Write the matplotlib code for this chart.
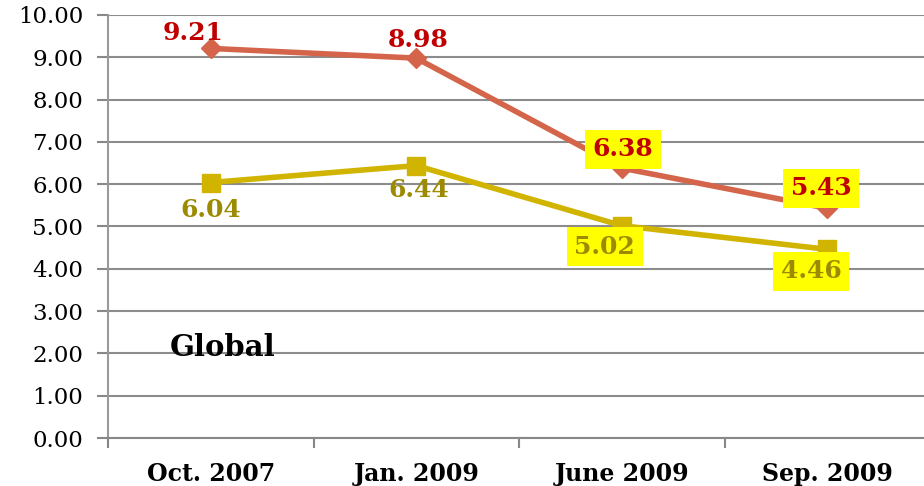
import matplotlib
matplotlib.use("Agg")
import matplotlib.pyplot as plt

categories = ["Oct. 2007", "Jan. 2009", "June 2009", "Sep. 2009"]
series_red = [9.21, 8.98, 6.38, 5.43]
series_yellow = [6.04, 6.44, 5.02, 4.46]
y_ticks = [0, 1, 2, 3, 4, 5, 6, 7, 8, 9, 10]

plt.rcParams['font.family'] = ['DejaVu Serif', 'Liberation Serif']

fig = plt.figure(figsize=(9.24, 4.86), dpi=100)
ax = fig.add_axes([108/924, 48/486, (930-108)/924, (438-15)/486])

x = list(range(len(categories)))
red_line = '#D4654A'
red_text = '#C00000'
yel_line = '#D1B400'
yel_text = '#9C8A00'

ax.plot(x, series_red, color=red_line, lw=4, marker='D', ms=10, zorder=3)
ax.plot(x, series_yellow, color=yel_line, lw=4, marker='s', ms=13, zorder=3)

# labels
red_off = [(-18, 15), (2, 18), (1, 19), (-6, 20)]
red_box = [False, False, True, True]
for i, (v, (dx, dy), b) in enumerate(zip(series_red, red_off, red_box)):
    kw = dict(boxstyle='square,pad=0.3', fc='#FFFF00', ec='none') if b else None
    ax.annotate(f"{v:.2f}", (i, v), xytext=(dx, dy), textcoords='offset pixels',
                ha='center', va='center', fontsize=18, fontweight='bold',
                color=red_text, bbox=kw, zorder=5)
yel_off = [(0, -27), (3, -24), (-17, -21), (-16, -22)]
yel_box = [False, False, True, True]
for i, (v, (dx, dy), b) in enumerate(zip(series_yellow, yel_off, yel_box)):
    kw = dict(boxstyle='square,pad=0.3', fc='#FFFF00', ec='none') if b else None
    ax.annotate(f"{v:.2f}", (i, v), xytext=(dx, dy), textcoords='offset pixels',
                ha='center', va='center', fontsize=18, fontweight='bold',
                color=yel_text, bbox=kw, zorder=5)

ax.set_xlim(-0.5, 3.5)
ax.set_ylim(0, 10)
ax.set_yticks(y_ticks)
ax.set_yticklabels([f"{t:.2f}" for t in y_ticks], fontsize=16.5)
ax.set_xticks([i - 0.5 for i in range(len(categories) + 1)])
ax.set_xticklabels([])
ax.set_xticks(x, minor=True)
ax.set_xticklabels(categories, minor=True, fontsize=17, fontweight='bold')
ax.tick_params(axis='x', which='minor', length=0, pad=17)
ax.tick_params(axis='x', which='major', length=7, color='#888888', width=1.5)
ax.tick_params(axis='y', length=8, color='#888888', width=1.5, pad=10)

ax.grid(axis='y', color='#8c8c8c', lw=1.5)
ax.set_axisbelow(True)
for s in ['top', 'right']:
    ax.spines[s].set_visible(False)
ax.spines['left'].set_color('#999999')
ax.spines['left'].set_linewidth(1.5)
ax.spines['bottom'].set_color('#888888')
ax.spines['bottom'].set_linewidth(1.5)

ax.text(0.06, 2.15, "Global", fontsize=21, fontweight='bold', ha='center', va='center')

fig.savefig("out.png", dpi=100)
